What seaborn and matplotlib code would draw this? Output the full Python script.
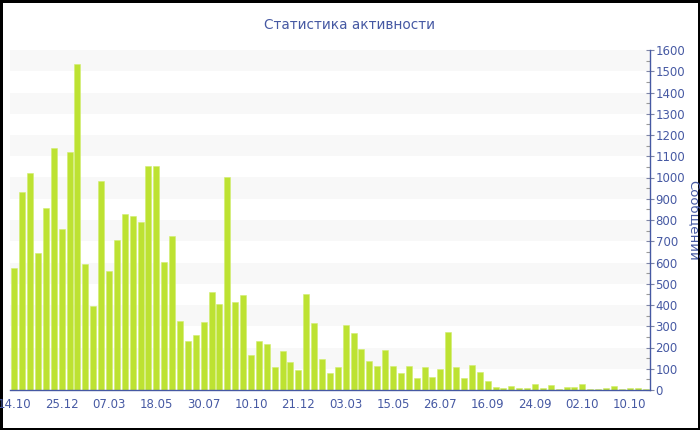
#!/usr/bin/env python3
# -*- coding: utf-8 -*-

"""
Activity statistics: messages per period, bar chart with right-hand axis
"""

import matplotlib
matplotlib.use("Agg")
import matplotlib.pyplot as plt
import pandas as pd
import seaborn as sns
from matplotlib.ticker import MultipleLocator

# message counts, one per period
counts = [575, 930, 1020, 645, 855, 1140, 760, 1120, 1532, 592,
          395, 984, 562, 704, 827, 819, 791, 1056, 1055, 603,
          726, 323, 232, 261, 320, 460, 406, 1004, 412, 446,
          166, 232, 216, 110, 184, 133, 96, 452, 317, 148,
          82, 110, 308, 268, 193, 138, 115, 188, 115, 82,
          113, 58, 107, 60, 98, 273, 108, 56, 116, 83,
          41, 14, 11, 20, 11, 9, 28, 8, 24, 6,
          14, 14, 28, 5, 5, 8, 19, 6, 9, 8, 5]

# labels shown under every sixth bar
tick_labels = ['14.10', '25.12', '07.03', '18.05', '30.07', '10.10', '21.12',
               '03.03', '15.05', '26.07', '16.09', '24.09', '02.10', '10.10']
tick_step = 6

title = 'Статистика активности'
y_label = 'Сообщений'

BLUE = '#4659a3'
GREEN = '#bde232'

df = pd.DataFrame({'period': range(len(counts)), 'messages': counts})

sns.set_style('white')
plt.rcParams['font.family'] = ['DejaVu Sans']

fig = plt.figure(figsize=(7, 4.3), dpi=100)
fig.patch.set_edgecolor('black')
fig.patch.set_linewidth(2.5)
ax = fig.add_axes([10 / 700, 1 - 390 / 430, 640 / 700, 340 / 430])

# alternating light bands
for lo in range(100, 1600, 200):
    ax.axhspan(lo, lo + 100, color='#f8f8f8', zorder=0, lw=0)

sns.barplot(data=df, x='period', y='messages', color=GREEN, saturation=1,
            width=0.76, edgecolor='#d2ee70', linewidth=0.4, ax=ax, zorder=2)

ax.set_xlim(-0.55, len(counts) - 0.43)
ax.set_ylim(0, 1600)

ax.set_xticks(range(0, len(counts), tick_step))
ax.set_xticklabels(tick_labels)
ax.set_xlabel('')
ax.set_ylabel('')

ax.yaxis.tick_right()
ax.yaxis.set_major_locator(MultipleLocator(100))
ax.yaxis.set_minor_locator(MultipleLocator(50))
ax.tick_params(axis='y', which='major', direction='inout', length=6,
               width=0.8, color='#7f86a6', labelsize=8.5, labelcolor=BLUE, pad=1)
ax.tick_params(axis='y', which='minor', direction='in', length=3,
               width=0.8, color='#9a9a9a', right=True)
ax.tick_params(axis='x', direction='out', length=4, width=0.8,
               color='#8a8a8a', labelsize=8.5, labelcolor=BLUE, pad=2)

for side in ['left', 'top']:
    ax.spines[side].set_visible(False)
for side in ['bottom', 'right']:
    ax.spines[side].set_color(BLUE)
    ax.spines[side].set_linewidth(1.0)

fig.text(0.5, 1 - 25 / 430, title, ha='center', va='center',
         fontsize=9.8, color=BLUE)
fig.text(693.5 / 700, 1 - 220 / 430, y_label, ha='center', va='center',
         rotation=-90, fontsize=9.5, color=BLUE)

fig.savefig('out.png', dpi=100, edgecolor=fig.get_edgecolor())
